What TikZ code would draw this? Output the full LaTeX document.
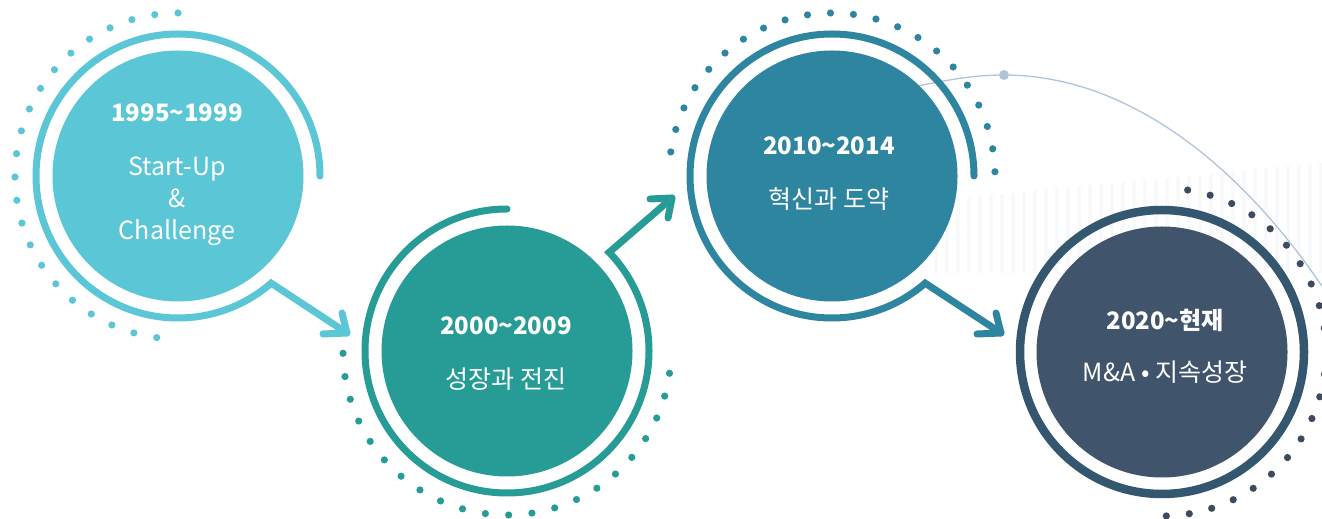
\documentclass[tikz,border=0pt]{standalone}
\usepackage{fontspec}
\setmainfont{Noto Sans CJK KR}
\definecolor{cA}{HTML}{5BC6D5}
\definecolor{cB}{HTML}{279B96}
\definecolor{cC}{HTML}{2E859F}
\definecolor{cDfill}{HTML}{40546B}
\definecolor{cDring}{HTML}{34566E}
\definecolor{cDdot}{HTML}{3E4B5F}
\definecolor{thinc}{HTML}{B0C4D9}
\definecolor{stripec}{HTML}{F8F9FA}
\tikzset{
  disk/.style={circle, minimum size=251pt, inner sep=0pt, draw=none},
  ringline/.style={line width=7pt, line cap=round, line join=miter},
  headline/.style={line width=7pt, line cap=round, line join=round},
  yeartext/.style={anchor=base, text=white, font=\fontsize{24}{28}\selectfont\bfseries},
  subtext/.style={anchor=base, text=white, font=\fontsize{25}{30}\selectfont},
  thinline/.style={draw=thinc, line width=1.3pt},
}
\begin{document}
\begin{tikzpicture}[x=1pt,y=1pt]
\useasboundingbox (0,0) rectangle (1322,519);
\clip (0,0) rectangle (1322,519);
% faint stripes
\foreach \i in {0,...,35} {
  \pgfmathsetmacro\xx{936+11*\i}
  \pgfmathsetmacro\yt{319+37*\i/35}
  \fill[stripec] (\xx-2,246) rectangle (\xx+2,\yt);
}
% thin curve
\draw[thinline] (880,425) .. controls (940,438) and (970,444) .. (1004,444) .. controls (1130,444) and (1250,350) .. (1340,205);
\node[circle, fill=thinc, minimum size=10pt, inner sep=0pt] (ldot) at (1004,444) {};

% circle nodes
\node[disk, fill=cA] (n1) at (178,343) {};
\node[disk, fill=cB] (n2) at (507,168) {};
\node[disk, fill=cC] (n3) at (832,343) {};
\node[disk, fill=cDfill] (n4) at (1162,167) {};

% arrow tips and heads
\coordinate (t1) at (347,186);
\coordinate (a1) at (342,206);
\coordinate (b1) at (323,185);
\coordinate (t2) at (672,321);
\coordinate (a2) at (668,301);
\coordinate (b2) at (650,320);
\coordinate (t3) at (1001,186);
\coordinate (a3) at (996,206);
\coordinate (b3) at (977,185);

% rings with arrows
\draw[cA, ringline] (n1.center) ++(0:142) arc[start angle=0, end angle=311, radius=142] -- (t1);
\draw[cA, headline] (a1) -- (t1) -- (b1);
\draw[cB, ringline] (n2.center) ++(90:142) arc[start angle=90, end angle=404, radius=142] -- (t2);
\draw[cB, headline] (a2) -- (t2) -- (b2);
\draw[cC, ringline] (n3.center) ++(0:142) arc[start angle=0, end angle=311, radius=142] -- (t3);
\draw[cC, headline] (a3) -- (t3) -- (b3);
\draw[cDring, line width=8.5pt] (n4.center) circle (142);

% dotted arcs
\foreach \i in {0,...,21} {
  \pgfmathsetmacro\aA{90+\i*172.5/21}
  \fill[cA] (n1.center) ++(\aA:163) circle (3.6);
  \pgfmathsetmacro\aB{180.8+\i*171.4/21}
  \fill[cB] (n2.center) ++(\aB:164) circle (3.6);
  \pgfmathsetmacro\aC{1.5+\i*170/21}
  \fill[cC] (n3.center) ++(\aC:163) circle (3.6);
  \pgfmathsetmacro\aD{81-\i*169.5/21}
  \fill[cDdot] (n4.center) ++(\aD:164) circle (3.6);
}

% texts
\node[yeartext] (y1) at (177,397) {1995\textasciitilde{}1999};
\node[subtext] (s1a) at (177,343) {Start-Up};
\node[subtext] (s1b) at (177,311) {\&};
\node[subtext] (s1c) at (177,279) {Challenge};
\node[yeartext] (y2) at (506,184) {2000\textasciitilde{}2009};
\node[subtext] (s2) at (506,130) {성장과 전진};
\node[yeartext] (y3) at (829,364) {2010\textasciitilde{}2014};
\node[subtext] (s3) at (829,310) {혁신과 도약};
\node[yeartext] (y4) at (1165,189) {2020\textasciitilde{}현재};
\node[subtext] (s4) at (1165,137) {M\&A • 지속성장};
\end{tikzpicture}
\end{document}
